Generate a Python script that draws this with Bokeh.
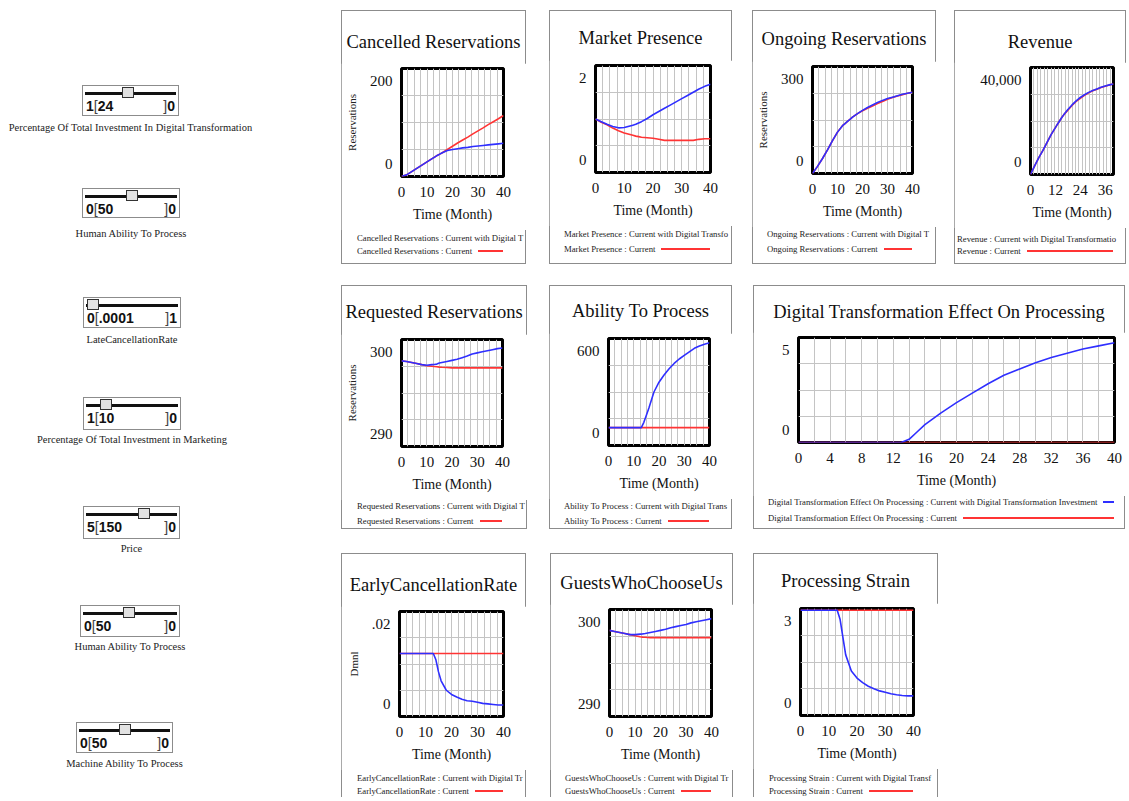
from bokeh.plotting import figure
from bokeh.models import Range1d, FixedTicker, Div, Spacer
from bokeh.layouts import row, column
from bokeh.embed import file_html
from bokeh.resources import INLINE

# ---------------- data ----------------
months = [0, 2, 4, 6, 8, 10, 12, 13, 14, 15, 16, 18, 20, 22, 24, 26, 28, 30, 32, 34, 36, 38, 40]

cancelled_dt = [0, 3, 9, 15, 21, 27, 33, 36, 39, 41.5, 44, 48, 50, 51.5, 53, 54, 55.5, 56.5, 57.5, 58.5, 59.5, 60.5, 61.5]
cancelled_cur = [0, 3, 9, 15, 21, 27, 33, 36, 39, 41.5, 44, 50, 56, 62, 67.5, 73, 79, 84.5, 90, 96, 101.5, 107, 113]

market_dt = [1.0, 0.95, 0.9, 0.86, 0.835, 0.84, 0.87, 0.885, 0.9, 0.925, 0.95, 1.01, 1.08, 1.14, 1.2, 1.26, 1.32, 1.38, 1.44, 1.5, 1.56, 1.61, 1.65]
market_cur = [1.0, 0.94, 0.89, 0.83, 0.78, 0.74, 0.71, 0.695, 0.68, 0.67, 0.66, 0.65, 0.64, 0.62, 0.6, 0.6, 0.6, 0.6, 0.6, 0.6, 0.62, 0.63, 0.63]

ongoing_dt = [0, 20, 42, 66, 92, 116, 134, 140, 146, 152, 158, 168, 177, 185, 192, 199, 205, 210, 214, 218, 222, 225, 228]
ongoing_cur = [0, 20, 42, 66, 92, 116, 134, 140, 146, 152, 158, 168, 176, 183, 189, 196, 202, 208, 213, 217, 221, 225, 228]

revenue_dt = [0, 3200, 6300, 9000, 12000, 15000, 17500, 18800, 20000, 21200, 22300, 24300, 26000, 27500, 28800, 29800, 30700, 31400, 32000, 32600, 33100, 33500, 33800]
revenue_cur = [0, 3200, 6300, 9000, 12000, 15000, 17500, 18800, 20000, 21200, 22300, 24000, 25800, 27300, 28500, 29600, 30500, 31300, 31900, 32500, 33000, 33500, 33800]

requested_dt = [298.0, 297.95, 297.85, 297.75, 297.65, 297.6, 297.65, 297.67, 297.7, 297.8, 297.85, 297.95, 298.05, 298.15, 298.3, 298.45, 298.65, 298.75, 298.85, 298.95, 299.05, 299.15, 299.2]
requested_cur = [298.0, 297.95, 297.85, 297.75, 297.65, 297.55, 297.5, 297.47, 297.45, 297.42, 297.4, 297.38, 297.35, 297.35, 297.35, 297.35, 297.35, 297.35, 297.35, 297.35, 297.35, 297.35, 297.35]

ability_dt = [100, 100, 100, 100, 100, 100, 100, 100, 130, 170, 210, 300, 355, 395, 430, 460, 485, 505, 525, 545, 558, 568, 576]
ability_cur = [100, 100, 100, 100, 100, 100, 100, 100, 100, 100, 100, 100, 100, 100, 100, 100, 100, 100, 100, 100, 100, 100, 100]

digital_dt = [0, 0, 0, 0, 0, 0, 0, 0, 0.15, 0.5, 0.85, 1.4, 1.9, 2.35, 2.8, 3.2, 3.5, 3.8, 4.05, 4.25, 4.45, 4.6, 4.75]
digital_cur = [0, 0, 0, 0, 0, 0, 0, 0, 0, 0, 0, 0, 0, 0, 0, 0, 0, 0, 0, 0, 0, 0, 0]

early_dt = [0.012, 0.012, 0.012, 0.012, 0.012, 0.012, 0.012, 0.012, 0.0108, 0.0085, 0.0068, 0.005, 0.0042, 0.0037, 0.0033, 0.003, 0.0029, 0.0027, 0.0025, 0.0024, 0.0023, 0.0022, 0.0022]
early_cur = [0.012, 0.012, 0.012, 0.012, 0.012, 0.012, 0.012, 0.012, 0.012, 0.012, 0.012, 0.012, 0.012, 0.012, 0.012, 0.012, 0.012, 0.012, 0.012, 0.012, 0.012, 0.012, 0.012]

guests_dt = [298.05, 297.95, 297.85, 297.75, 297.65, 297.65, 297.7, 297.72, 297.75, 297.8, 297.85, 297.95, 298.05, 298.15, 298.3, 298.4, 298.5, 298.6, 298.75, 298.85, 298.95, 299.05, 299.15]
guests_cur = [298.05, 297.95, 297.85, 297.75, 297.65, 297.55, 297.45, 297.42, 297.4, 297.38, 297.37, 297.37, 297.37, 297.37, 297.37, 297.37, 297.37, 297.37, 297.37, 297.37, 297.37, 297.37, 297.37]

strain_dt = [2.95, 2.95, 2.95, 2.95, 2.95, 2.95, 2.95, 2.95, 2.7, 2.2, 1.7, 1.25, 1.05, 0.92, 0.82, 0.75, 0.69, 0.65, 0.61, 0.58, 0.56, 0.55, 0.55]
strain_cur = [2.95, 2.95, 2.95, 2.95, 2.95, 2.95, 2.95, 2.95, 2.95, 2.95, 2.95, 2.95, 2.95, 2.95, 2.95, 2.95, 2.95, 2.95, 2.95, 2.95, 2.95, 2.95, 2.95]

ticks_10 = [0, 10, 20, 30, 40]
ticks_12 = [0, 12, 24, 36]
ticks_4 = [0, 4, 8, 12, 16, 20, 24, 28, 32, 36, 40]

# legend texts as far as they are visible in the panels
legend_dt = {
    "Cancelled Reservations": "Cancelled Reservations : Current with Digital T",
    "Market Presence": "Market Presence : Current with Digital Transfo",
    "Ongoing Reservations": "Ongoing Reservations : Current with Digital T",
    "Revenue": "Revenue : Current with Digital Transformatio",
    "Requested Reservations": "Requested Reservations : Current with Digital T",
    "Ability To Process": "Ability To Process : Current with Digital Trans",
    "Digital Transformation Effect On Processing": "Digital Transformation Effect On Processing : Current with Digital Transformation Investment",
    "EarlyCancellationRate": "EarlyCancellationRate : Current with Digital Tr",
    "GuestsWhoChooseUs": "GuestsWhoChooseUs : Current with Digital Tr",
    "Processing Strain": "Processing Strain : Current with Digital Transf",
}
scenario_cur = "Current"

slider_names = ["Percentage Of Total Investment In Digital Transformation", "Human Ability To Process",
                "LateCancellationRate", "Percentage Of Total Investment in Marketing", "Price",
                "Human Ability To Process", "Machine Ability To Process"]
slider_min = ["1", "0", "0", "1", "5", "0", "0"]
slider_val = ["24", "50", ".0001", "10", "150", "50", "50"]
slider_max = ["0", "0", "1", "0", "0", "0", "0"]

# ---------------- styling ----------------
SERIF = "Liberation Serif"
BLUE = "#2f2fff"
RED = "#ff3434"
GRID = "#c4c4c4"
BORDER = "#8c8c8c"
PAD = 8  # page margin added explicitly

# slider geometry (page px): box x, y, w, h, handle centre x, label centre y
slider_geom = [(82, 85, 97, 31, 127, 128), (82, 188, 98, 30, 131, 234), (83, 297, 98, 31, 92, 340),
               (83, 397, 98, 33, 105, 440), (83, 506, 97, 33, 143, 549), (80, 605, 100, 32, 128, 647),
               (76, 722, 97, 31, 124, 764)]


def slider_html():
    parts = ['<div style="position:relative;width:333px;height:785px;background:#fff;">']
    for name, mn, val, mx, (x, y, w, h, hx, ly) in zip(slider_names, slider_min, slider_val, slider_max, slider_geom):
        x0, y0 = x - PAD, y - PAD
        parts.append(
            f'<div style="position:absolute;left:{x0}px;top:{y0}px;width:{w}px;height:{h}px;'
            f'border:1px solid {BORDER};box-sizing:border-box;background:#fff;">'
            f'<div style="position:absolute;left:2px;right:2px;top:6px;height:3px;background:#111;"></div>'
            f'<div style="position:absolute;left:{hx - x - 6}px;top:1px;width:12px;height:11px;background:#e2e2e2;'
            f'border:1px solid #333;box-sizing:border-box;"></div>'
            f'<div style="position:absolute;left:3px;top:12px;font-family:\'Liberation Sans Narrow\',\'Liberation Sans\',sans-serif;'
            f'font-weight:bold;font-size:14px;line-height:17px;color:#111;white-space:nowrap;">{mn}'
            f'<span style="font-weight:normal;color:#444;">[</span>{val}</div>'
            f'<div style="position:absolute;right:3px;top:12px;font-family:\'Liberation Sans Narrow\',\'Liberation Sans\',sans-serif;'
            f'font-weight:bold;font-size:14px;line-height:17px;color:#111;white-space:nowrap;">'
            f'<span style="font-weight:normal;color:#444;">]</span>{mx}</div>'
            f'</div>')
        cx = x0 + w / 2
        parts.append(
            f'<div style="position:absolute;left:{cx - 160}px;width:320px;top:{ly - PAD - 7}px;height:14px;line-height:14px;'
            f'text-align:center;font-family:\'{SERIF}\',serif;font-size:10.5px;color:#222;white-space:nowrap;">{name}</div>')
    parts.append('</div>')
    return "".join(parts)


def make_panel(title, ylabel, blue, red, yr, ylabs, xticks, xstep, geom, bottom_row=False):
    W, H, fl, ft, fw, fh, tc, lx, l1, l2 = geom
    top_pad = 5
    bot = 54
    title_h = ft - top_pad
    fig_h = top_pad + fh + bot
    leg_h = H - title_h - fig_h
    lo, hi = yr

    title_div = Div(
        text=(f'<div style="position:relative;width:{W}px;height:{title_h}px;">'
              f'<div style="position:absolute;left:0;width:{W}px;top:{tc - 12}px;height:24px;line-height:24px;'
              f'text-align:center;font-family:\'{SERIF}\',serif;font-size:18.5px;color:#111;white-space:nowrap;">{title}</div></div>'),
        width=W, height=title_h, margin=0, styles={"overflow": "hidden"})

    p = figure(width=W, height=fig_h, title=None, x_range=Range1d(0, 40), y_range=Range1d(lo, hi),
               toolbar_location=None, tools="", output_backend="svg",
               min_border_left=fl, min_border_right=W - fl - fw, min_border_top=top_pad, min_border_bottom=bot)
    p.background_fill_color = "white"
    p.border_fill_color = "white"
    p.outline_line_color = "black"
    p.outline_line_width = 3

    gx = [xstep * i for i in range(1, int(round(40 / xstep)))]
    p.xgrid.ticker = FixedTicker(ticks=gx)
    p.ygrid.ticker = FixedTicker(ticks=[lo + (hi - lo) * k / 4 for k in (1, 2, 3)])
    for g in (p.xgrid, p.ygrid):
        g.grid_line_color = GRID
        g.grid_line_width = 1

    p.line(months, red, color=RED, line_width=1.6)
    p.line(months, blue, color=BLUE, line_width=1.6)

    xa = p.xaxis[0]
    xa.ticker = FixedTicker(ticks=xticks)
    xa.axis_label = "Time (Month)"
    xa.axis_label_text_font = SERIF
    xa.axis_label_text_font_size = "14px"
    xa.axis_label_text_font_style = "normal"
    xa.axis_label_text_color = "#111"
    xa.axis_label_standoff = 7
    xa.major_label_text_font = SERIF
    xa.major_label_text_font_size = "15px"
    xa.major_label_text_color = "#111"
    xa.major_label_standoff = 10
    xa.axis_line_color = None
    xa.major_tick_line_color = None
    xa.minor_tick_line_color = None
    xa.major_tick_in = 0
    xa.major_tick_out = 0

    t0 = lo + 0.12 * (hi - lo)
    t1 = hi - 0.12 * (hi - lo)
    ya = p.yaxis[0]
    ya.ticker = FixedTicker(ticks=[t0, t1])
    ya.major_label_overrides = {t0: ylabs[0], t1: ylabs[1]}
    ya.major_label_text_font = SERIF
    ya.major_label_text_font_size = "15px"
    ya.major_label_text_color = "#111"
    ya.major_label_standoff = 9
    ya.axis_line_color = None
    ya.major_tick_line_color = None
    ya.minor_tick_line_color = None
    ya.major_tick_in = 0
    ya.major_tick_out = 0
    if ylabel:
        ya.axis_label = ylabel
        ya.axis_label_text_font = SERIF
        ya.axis_label_text_font_size = "11px"
        ya.axis_label_text_font_style = "normal"
        ya.axis_label_text_color = "#222"
        ya.axis_label_standoff = 9

    frame_right = fl + fw
    rows_html = []
    for txt, col, yc in ((legend_dt[title], BLUE, l1), (f"{title} : {scenario_cur}", RED, l2)):
        top = yc - (title_h + fig_h) - 6
        rows_html.append(
            f'<div style="position:absolute;left:{lx}px;width:{frame_right - lx}px;top:{top}px;height:12px;'
            f'display:flex;align-items:center;white-space:nowrap;font-family:\'{SERIF}\',serif;font-size:8.7px;color:#222;">'
            f'<span style="flex:none;">{txt}</span>'
            f'<span style="flex:1 1 auto;min-width:0;height:0;border-top:2px solid {col};margin-left:6px;"></span></div>')
    legend_div = Div(
        text=f'<div style="position:relative;width:{W}px;height:{leg_h}px;overflow:hidden;">{"".join(rows_html)}</div>',
        width=W, height=leg_h, margin=0, styles={"overflow": "hidden"})

    st = {"outline": f"1px solid {BORDER}", "outline-offset": "-1px", "overflow": "hidden", "background": "white"}
    if bottom_row:
        st["clip-path"] = "inset(0 0 1px 0)"
    return column(title_div, p, legend_div, width=W, height=H, spacing=0, styles=st)


# geometry: W, H, frame_left, frame_top, frame_w, frame_h, title_centre, legend_left, legend_y1, legend_y2
A = make_panel("Cancelled Reservations", "Reservations", cancelled_dt, cancelled_cur, (0, 200), ("0", "200"),
               ticks_10, 2.5, (185, 254, 60, 58, 102, 108, 32, 16, 228, 241))
B = make_panel("Market Presence", None, market_dt, market_cur, (0, 2), ("0", "2"),
               ticks_10, 2.5, (183, 254, 46, 55, 115, 107, 28, 15, 224, 239))
C = make_panel("Ongoing Reservations", "Reservations", ongoing_dt, ongoing_cur, (0, 300), ("0", "300"),
               ticks_10, 2.5, (184, 254, 60, 56, 100, 107, 29, 15, 224, 239))
D = make_panel("Revenue", None, revenue_dt, revenue_cur, (0, 40000), ("0", "40,000"),
               ticks_12, 40 / 24, (172, 254, 76, 57, 83, 107, 32, 3, 229, 241))
E = make_panel("Requested Reservations", "Reservations", requested_dt, requested_cur, (290, 300), ("290", "300"),
               ticks_10, 2.5, (186, 244, 60, 54, 101, 107, 27, 16, 221, 236))
F = make_panel("Ability To Process", None, ability_dt, ability_cur, (0, 600), ("0", "600"),
               ticks_10, 2.5, (183, 244, 59, 53, 101, 107, 26, 15, 221, 236))
G = make_panel("Digital Transformation Effect On Processing", None, digital_dt, digital_cur, (0, 5), ("0", "5"),
               ticks_4, 2, (372, 244, 45, 52, 316, 105, 27, 15, 217, 233))
H = make_panel("EarlyCancellationRate", "Dmnl", early_dt, early_cur, (0, 0.02), ("0", ".02"),
               ticks_10, 2.5, (185, 245, 58, 58, 104, 105, 32, 16, 225, 238), bottom_row=True)
I = make_panel("GuestsWhoChooseUs", None, guests_dt, guests_cur, (290, 300), ("290", "300"),
               ticks_10, 2.5, (183, 245, 59, 56, 102, 107, 30, 15, 225, 238), bottom_row=True)
J = make_panel("Processing Strain", None, strain_dt, strain_cur, (0, 3), ("0", "3"),
               ticks_10, 2.5, (185, 245, 47, 55, 113, 107, 28, 16, 225, 238), bottom_row=True)

row1 = row(A, Spacer(width=23, height=254), B, Spacer(width=20, height=254), C, Spacer(width=18, height=254), D,
           spacing=0)
row2 = row(E, Spacer(width=22, height=244), F, Spacer(width=21, height=244), G, spacing=0)
row3 = row(H, Spacer(width=24, height=245), I, Spacer(width=20, height=245), J, spacing=0)

right = column(Spacer(width=784, height=2), row1, Spacer(width=784, height=21), row2,
               Spacer(width=784, height=24), row3, spacing=0)
left = Div(text=slider_html(), width=333, height=785, margin=0)

page = column(Spacer(width=1125, height=PAD),
              row(Spacer(width=PAD, height=790), left, right, spacing=0),
              spacing=0)

open("out.html", "w").write(file_html(page, INLINE))
